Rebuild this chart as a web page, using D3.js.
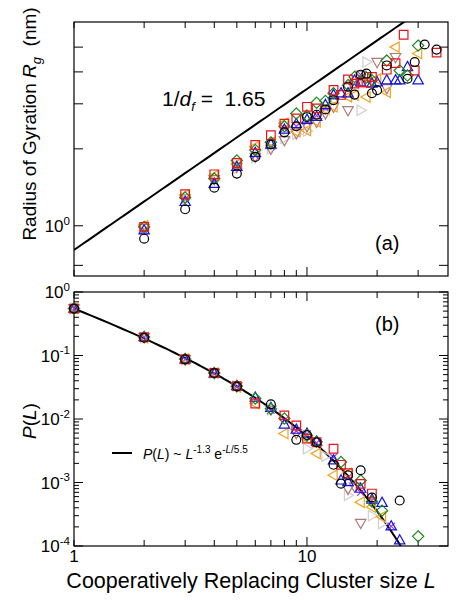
<!DOCTYPE html>
<html><head><meta charset="utf-8">
<script src="https://cdn.jsdelivr.net/npm/d3@7"></script>
<style>
body{margin:0;background:#fff;}
svg text{font-family:"Liberation Sans",Arial,Helvetica,sans-serif;fill:#000;white-space:pre;}
</style></head>
<body><svg id="c" width="458" height="600"></svg>
<script>
// ---------- data ----------
const xTickMajor = [1, 10];
const xTickMinor = [2,3,4,5,6,7,8,9,20,30];
const rgTicks = [0.7, 1, 2, 3, 4, 5];
const rgTickLabels = [{v:1, base:"10", exp:"0"}];
const pTickMajor = [1, 0.1, 0.01, 0.001, 0.0001];
const pTickLabels = ["0","-1","-2","-3","-4"];

// power-law guide line in panel (a): R = fitA * L^fitSlope
const fitA = 0.804, fitSlope = 0.63;
// fit in panel (b): P = fitC * L^-1.3 * exp(-L/5.5)
const fitC = 0.657, fitPow = -1.3, fitTau = 5.5;

// panel (a): Radius of gyration  [L, Rg]
const rgCircle  = [[2,.89],[3,1.16],[4,1.41],[5,1.60],[6,1.86],[7,2.08],[8,2.32],[9,2.45],[10,2.66],[11,2.72],[12,2.85],[13,3.1],[15,3.5],[16,3.26],[17,3.9],[18,3.94],[19,3.3],[20,3.39],[22,4.24],[27,3.76],[29,4.37],[32,5.12],[36,4.89]];
const rgSquare  = [[2,.99],[3,1.33],[4,1.59],[5,1.76],[6,2.07],[7,2.26],[8,2.51],[9,2.63],[10,2.92],[11,2.88],[13,3.4],[14,3.25],[15,3.74],[16,3.6],[17,3.64],[18,3.64],[19,3.82],[22,4.08],[24,4.33],[26,5.59],[29,4.05],[36,4.76]];
const rgDiamond = [[2,.99],[3,1.29],[4,1.53],[5,1.80],[6,1.98],[7,2.12],[8,2.45],[9,2.75],[10,2.7],[11,3.03],[12,3.08],[13,3.3],[15,3.55],[16,3.82],[18,3.8],[19,3.71],[22,4.43],[25,4.05],[27,3.87],[30,5.07]];
const rgTriUp   = [[2,.96],[3,1.24],[4,1.46],[5,1.70],[6,1.93],[7,2.08],[8,2.38],[9,2.50],[10,2.6],[11,2.67],[12,2.97],[13,3.25],[14,3.3],[15,3.3],[16,3.7],[17,3.64],[19,3.6],[20,3.64],[22,3.71],[24,3.71],[25,3.71],[27,4.18],[30,3.71]];
const rgTriLeft = [[2,1.0],[3,1.32],[4,1.57],[5,1.74],[6,2.04],[7,2.12],[8,2.52],[9,2.33],[10,2.36],[11,2.55],[12,2.85],[13,2.92],[15,3.2],[16,3.24],[18,3.19],[20,3.75],[22,3.33],[24,5.0],[30,4.72]];
const rgTriDown = [[2,.98],[3,1.28],[4,1.52],[5,1.70],[6,1.86],[7,2.0],[8,2.16],[9,2.3],[10,2.45],[11,2.55],[12,2.75],[13,2.92],[15,2.83],[17,3.9],[20,4.37],[22,3.45],[24,4.57]];
const rgTriRight= [[2,.97],[3,1.27],[4,1.5],[5,1.68],[6,1.85],[7,2.0],[8,2.2],[9,2.28],[10,2.35],[12,2.85],[17,2.83],[18,4.37]];
const rgCross   = [[2,.96],[3,1.27],[4,1.5],[5,1.72],[6,1.88],[7,2.05],[8,2.4],[9,2.45],[10,2.55],[11,2.7],[12,2.9],[13,3.2],[17,3.9]];

// panel (b): probability  [L, P]
const pCircle  = [[1,.548],[2,.19],[3,.087],[4,.053],[5,.0325],[7,.017],[9,.0047],[10,.0056],[11,.0043],[13,.0019],[14,.00096],[15,.0013],[17,.00156],[19,.00058],[25,.00052]];
const pSquare  = [[1,.548],[2,.195],[3,.087],[4,.053],[5,.033],[6,.0175],[8,.0114],[9,.0079],[10,.0049],[11,.0043],[13,.0034],[14,.0019],[15,.0014],[17,.00095],[19,.00067]];
const pDiamond = [[1,.55],[2,.195],[3,.088],[4,.053],[5,.033],[6,.021],[7,.0145],[8,.0102],[10,.0055],[11,.0044],[14,.0021],[17,.00108],[19,.0005],[21,.00036],[30,.000142]];
const pTriUp   = [[1,.55],[2,.195],[3,.087],[4,.052],[5,.033],[6,.0217],[7,.015],[8,.0082],[9,.0068],[10,.0059],[11,.0044],[13,.00224],[14,.00108],[15,.00102],[17,.0008],[19,.00054],[21,.00048],[23,.000204],[25,.000123]];
const pTriLeft = [[1,.548],[2,.19],[3,.088],[4,.053],[5,.032],[6,.0175],[8,.0059],[10,.0049],[11,.00285],[13,.0013],[15,.0014],[17,.00049],[19,.00041],[21,.00029]];
const pTriDown = [[1,.55],[2,.195],[3,.087],[4,.053],[5,.0327],[7,.014],[9,.006],[15,.00079],[16,.00086],[17,.00023]];
const pTriRight= [[1,.548],[2,.19],[3,.087],[4,.053],[5,.033],[7,.0138],[10,.0034],[12,.0026],[15,.00063],[19,.0003],[21,.000225]];
const pCross   = [[1,.548],[2,.195],[3,.087],[4,.052],[5,.032],[6,.02],[7,.0137],[8,.0095],[9,.0065],[10,.0058],[11,.0042],[13,.0025],[15,.0012],[17,.0007],[19,.00052],[23,.000204]];

const seriesStyle = [
  {shape:"circle",  color:"#000000"},
  {shape:"square",  color:"#e8141c"},
  {shape:"diamond", color:"#1d8a1d"},
  {shape:"triUp",   color:"#1414e0"},
  {shape:"triLeft", color:"#f2a21e"},
  {shape:"triDown", color:"#b07a7a"},
  {shape:"triRight",color:"#cfcfcf"},
  {shape:"cross",   color:"#a040c8"}
];
const rgSeries = [rgTriRight, rgTriDown, rgCross, rgTriLeft, rgTriUp, rgDiamond, rgSquare, rgCircle];
const pSeries  = [pTriRight, pTriDown, pCross, pTriLeft, pTriUp, pDiamond, pSquare, pCircle];
const seriesOrder = [6,5,7,4,3,2,1,0];

// ---------- layout ----------
const svg = d3.select("#c");
const X0 = 74, X1 = 448;
const A = {top:22, bottom:276};
const B = {top:292, bottom:546};

const x = d3.scaleLog().domain([1, 40.3]).range([X0, X1]);
const yA = d3.scaleLog().domain([0.636, 6.27]).range([A.bottom, A.top]);
const yB = d3.scaleLog().domain([1e-4, 1]).range([B.bottom, B.top]);

function shapePath(shape){
  switch(shape){
    case "circle": return d3.symbol(d3.symbolCircle, 62)();
    case "square": return `M${-4.3},${-4.3}H4.3V4.3H-4.3Z`;
    case "diamond": return `M0,${-5.6}L5.6,0L0,5.6L-5.6,0Z`;
    case "triUp": return `M0,-5.6L5.2,3.6L-5.2,3.6Z`;
    case "triDown": return `M0,5.6L5.2,-3.6L-5.2,-3.6Z`;
    case "triLeft": return `M-5.6,0L3.6,-5.2L3.6,5.2Z`;
    case "triRight": return `M5.6,0L-3.6,-5.2L-3.6,5.2Z`;
    case "cross": return `M-3.6,-3.6L3.6,3.6M-3.6,3.6L3.6,-3.6`;
  }
}

function frame(panel, y, yTicks, yMajor){
  const g = svg.append("g");
  g.append("rect").attr("x",X0).attr("y",panel.top).attr("width",X1-X0).attr("height",panel.bottom-panel.top)
    .attr("fill","none").attr("stroke","#000").attr("stroke-width",1.2);
  const xt = xTickMajor.concat(xTickMinor);
  xt.forEach(v=>{
    const len = xTickMajor.includes(v)&&v!==1 ? 9 : 6;
    const px = x(v);
    g.append("line").attr("x1",px).attr("x2",px).attr("y1",panel.bottom).attr("y2",panel.bottom-len).attr("stroke","#000");
    g.append("line").attr("x1",px).attr("x2",px).attr("y1",panel.top).attr("y2",panel.top+len).attr("stroke","#000");
  });
  yTicks.forEach(v=>{
    const len = yMajor(v) ? 9 : 5;
    const py = y(v);
    g.append("line").attr("x1",X0).attr("x2",X0+len).attr("y1",py).attr("y2",py).attr("stroke","#000");
    g.append("line").attr("x1",X1).attr("x2",X1-len).attr("y1",py).attr("y2",py).attr("stroke","#000");
  });
}

frame(A, yA, rgTicks, v=>true);
const pTicks = [];
pTickMajor.forEach(d=>{ pTicks.push(d); if(d<1) for(let k=2;k<=9;k++) pTicks.push(d*k); });
frame(B, yB, pTicks, v=>pTickMajor.some(d=>Math.abs(d-v)/d<1e-6));

const defs = svg.append("defs");
defs.append("clipPath").attr("id","clipA").append("rect").attr("x",X0).attr("y",A.top).attr("width",X1-X0).attr("height",A.bottom-A.top);
defs.append("clipPath").attr("id","clipB").append("rect").attr("x",X0).attr("y",B.top).attr("width",X1-X0).attr("height",B.bottom-B.top);

function supLabel(px, py, base, exp, size){
  const t = svg.append("text").attr("x",px).attr("y",py).attr("text-anchor","end").style("font-size",size+"px");
  t.append("tspan").text(base);
  t.append("tspan").attr("dy",-size*0.42).style("font-size",(size*0.68)+"px").text(exp);
  return t;
}
rgTickLabels.forEach(d=> supLabel(X0-4, yA(d.v)+6, d.base, d.exp, 17));
pTickMajor.forEach((v,i)=> supLabel(X0-4, yB(v)+6, "10", pTickLabels[i], 17));
svg.append("text").attr("x",x(1)).attr("y",B.bottom+16).attr("text-anchor","middle").style("font-size","17px").text("1");
svg.append("text").attr("x",x(10)).attr("y",B.bottom+16).attr("text-anchor","middle").style("font-size","17px").text("10");

const lineA = d3.line().x(d=>x(d)).y(d=>yA(fitA*Math.pow(d,fitSlope)));
const lx = d3.range(0,1.62,0.02).map(t=>Math.pow(10,t));
svg.append("path").attr("clip-path","url(#clipA)").attr("d",lineA(lx)).attr("fill","none").attr("stroke","#000").attr("stroke-width",2);

const lineB = d3.line().x(d=>x(d)).y(d=>yB(fitC*Math.pow(d,fitPow)*Math.exp(-d/fitTau)));
const lb = d3.range(1,27.01,0.1);
svg.append("path").attr("clip-path","url(#clipB)").attr("d",lineB(lb)).attr("fill","none").attr("stroke","#000").attr("stroke-width",2);

function drawSeries(list, y){
  seriesOrder.forEach((si,j)=>{
    const st = seriesStyle[si];
    const data = list[j];
    svg.append("g").selectAll("path").data(data).join("path")
      .attr("d", shapePath(st.shape))
      .attr("transform", d=>`translate(${x(d[0])},${y(d[1])})`)
      .attr("fill","none").attr("stroke",st.color).attr("stroke-width",1.2);
  });
}
drawSeries(rgSeries, yA);
drawSeries(pSeries, yB);

const t1 = svg.append("text").attr("x",162).attr("y",106).style("font-size","21px");
t1.append("tspan").text("1/");
t1.append("tspan").style("font-style","italic").text("d");
t1.append("tspan").attr("dy",5).style("font-size","13px").style("font-style","italic").text("f");
t1.append("tspan").attr("dy",-5).text(" =  1.65");

svg.append("text").attr("x",375).attr("y",250).style("font-size","20px").text("(a)");
svg.append("text").attr("x",375).attr("y",331).style("font-size","20px").text("(b)");

svg.append("line").attr("x1",112).attr("x2",132).attr("y1",453).attr("y2",453).attr("stroke","#000").attr("stroke-width",2);
const lg = svg.append("text").attr("x",143).attr("y",459).style("font-size","14px");
lg.append("tspan").style("font-style","italic").text("P");
lg.append("tspan").text("(");
lg.append("tspan").style("font-style","italic").text("L");
lg.append("tspan").text(") ~ ");
lg.append("tspan").style("font-style","italic").text("L");
lg.append("tspan").attr("dy",-6).style("font-size","10px").text("-1.3");
lg.append("tspan").attr("dy",6).text(" e");
lg.append("tspan").attr("dy",-6).style("font-size","10px").text("-");
lg.append("tspan").style("font-size","10px").style("font-style","italic").text("L");
lg.append("tspan").style("font-size","10px").text("/5.5");

const yt = svg.append("text").attr("transform","translate(36,124) rotate(-90)").attr("text-anchor","middle").style("font-size","19px");
yt.append("tspan").text("Radius of Gyration ");
yt.append("tspan").style("font-style","italic").text("R");
yt.append("tspan").attr("dy",5).style("font-size","13px").style("font-style","italic").text("g");
yt.append("tspan").attr("dy",-5).text("  (nm)");

const pt = svg.append("text").attr("transform","translate(36,421) rotate(-90)").attr("text-anchor","middle").style("font-size","19px");
pt.append("tspan").style("font-style","italic").text("P");
pt.append("tspan").text("(");
pt.append("tspan").style("font-style","italic").text("L");
pt.append("tspan").text(")");

const xt = svg.append("text").attr("x",251).attr("y",588).attr("text-anchor","middle").style("font-size","21.5px");
xt.append("tspan").text("Cooperatively Replacing Cluster size ");
xt.append("tspan").style("font-style","italic").text("L");
</script></body></html>
